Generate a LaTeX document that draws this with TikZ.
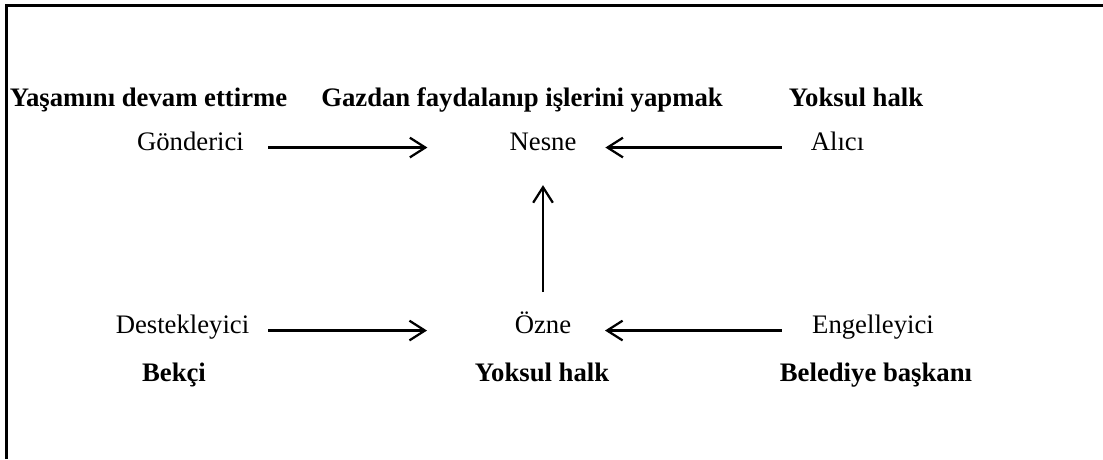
\documentclass[tikz,border=0pt]{standalone}
\usepackage{fontspec}
\setmainfont{Liberation Serif}
\usepackage{tikz}
\usetikzlibrary{arrows.meta,calc}

\begin{document}
\begin{tikzpicture}[>={Straight Barb[length=11pt,width=14pt]}]
			\tikzstyle{role}=[inner sep=0pt, anchor=base, text height=0.7em, text depth=0.35em, font=\fontsize{19}{23}\selectfont]
			\tikzstyle{actor}=[role, font=\fontsize{19}{23}\selectfont\bfseries]
			\tikzstyle{arr}=[->, line width=1.6pt]
			\tikzstyle{frame}=[line width=1.6pt]

			\useasboundingbox (0,0) rectangle (27.575,-11.475);

			\draw [frame] (0.1625,-11.475) -- (0.1625,-0.1375) -- (27.575,-0.1375);

			\node (yasam) [actor] at (3.7125,-2.65) {Yaşamını devam ettirme};
			\node (gazdan) [actor] at (13.05,-2.65) {Gazdan faydalanıp işlerini yapmak};
			\node (yoksul1) [actor] at (21.4,-2.65) {Yoksul halk};

			\node (gon) [role] at (4.7625,-3.75) {Gönderici};
			\node (nesne) [role] at (13.575,-3.75) {Nesne};
			\node (alici) [role] at (20.9375,-3.75) {Alıcı};

			\node (destek) [role] at (4.5625,-8.325) {Destekleyici};
			\node (ozne) [role] at (13.575,-8.325) {Özne};
			\node (engel) [role] at (21.825,-8.325) {Engelleyici};

			\node (bekci) [actor] at (4.35,-9.525) {Bekçi};
			\node (yoksul2) [actor] at (13.55,-9.525) {Yoksul halk};
			\node (baskan) [actor] at (21.9,-9.525) {Belediye başkanı};

			\draw [arr, shorten <=1.94cm, shorten >=2.89cm] (gon.center) -- (nesne.center);
			\draw [arr, shorten <=1.39cm, shorten >=1.56cm] (alici.center) -- (nesne.center);
			\draw [arr, shorten <=2.14cm, shorten >=2.9cm] (destek.center) -- (ozne.center);
			\draw [arr, shorten <=2.28cm, shorten >=1.55cm] (engel.center) -- (ozne.center);
			\draw [arr, shorten <=0.96cm, shorten >=0.94cm] (ozne.center) -- (nesne.center);
		\end{tikzpicture}
\end{document}
